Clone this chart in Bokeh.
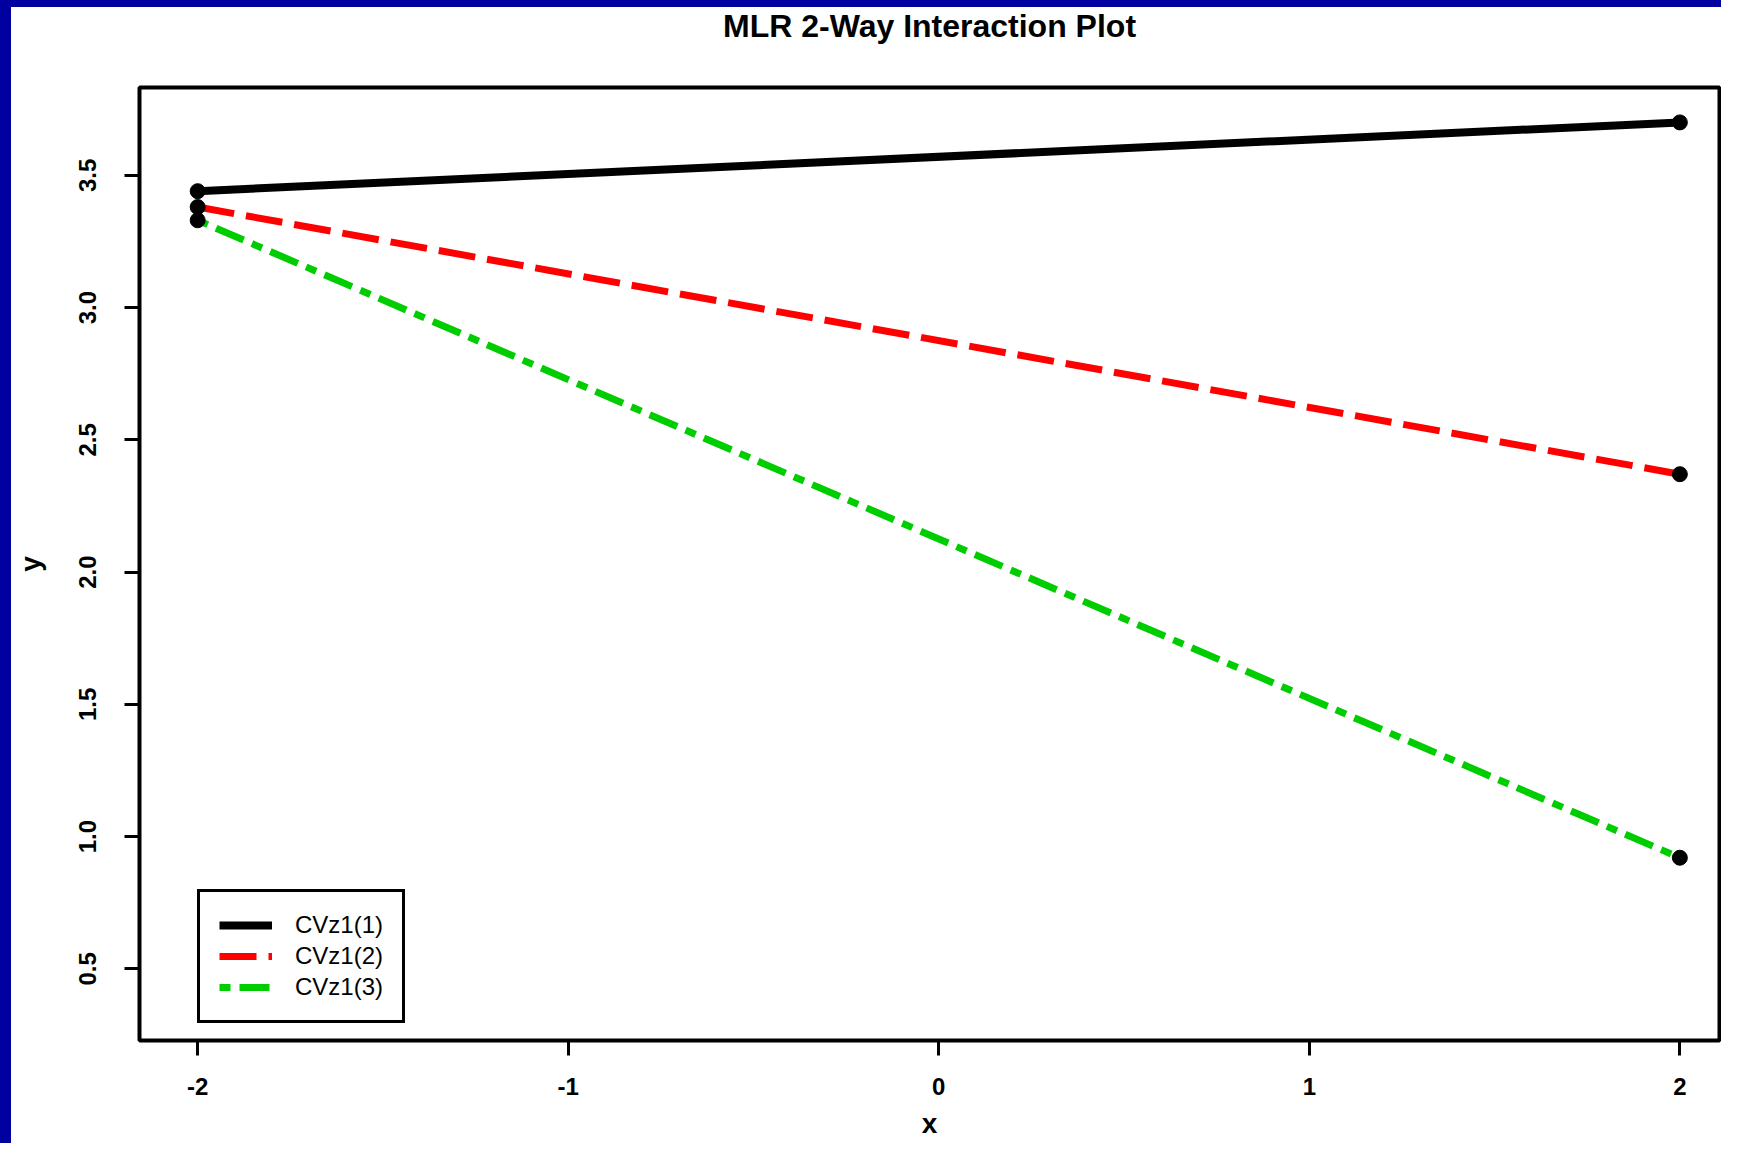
from bokeh.plotting import figure
from bokeh.models import (Range1d, Legend, LegendItem, FixedTicker, LinearAxis,
                          Div)
from bokeh.layouts import column, row
from bokeh.embed import file_html
from bokeh.resources import INLINE

# ---- data ----
x_vals = [-2, 2]
cvz1_1 = [3.44, 3.70]
cvz1_2 = [3.38, 2.37]
cvz1_3 = [3.33, 0.92]
series_names = ["CVz1(1)", "CVz1(2)", "CVz1(3)"]
x_ticks = [-2, -1, 0, 1, 2]
x_tick_labels = ["-2", "-1", "0", "1", "2"]
y_ticks = [0.5, 1.0, 1.5, 2.0, 2.5, 3.0, 3.5]
y_tick_labels = ["0.5", "1.0", "1.5", "2.0", "2.5", "3.0", "3.5"]

FONT = "Liberation Sans"
EDGE = "#0000A0"

p = figure(width=1710, height=1136, output_backend="svg", toolbar_location=None,
           x_range=Range1d(-2.157, 2.107), y_range=Range1d(0.229, 3.832),
           min_border_left=128, min_border_right=2, min_border_top=79,
           min_border_bottom=103, background_fill_color="white",
           border_fill_color="white", margin=0)
p.grid.visible = False
p.outline_line_color = "black"
p.outline_line_width = 4
p.outline_line_alpha = 1.0

xb = p.below[0]
yl = p.left[0]

# title
p.title.text = "MLR 2-Way Interaction Plot"
p.title.text_font = FONT
p.title.text_font_size = "32px"
p.title.text_font_style = "bold"
p.title.align = "center"
p.title.text_color = "black"
p.title.standoff = -3

# lines
r1 = p.line(x_vals, cvz1_1, line_color="black", line_width=8)
r2 = p.line(x_vals, cvz1_2, line_color="#FF0000", line_width=7, line_dash="37 12")
r3 = p.line(x_vals, cvz1_3, line_color="#00CD00", line_width=7, line_dash="11 9 30 9")

# end points
for ys in (cvz1_1, cvz1_2, cvz1_3):
    p.scatter(x_vals, ys, size=15, color="black")

# axes
for ax in (xb, yl):
    ax.axis_line_color = None
    ax.major_tick_in = 0
    ax.major_tick_out = 15
    ax.major_tick_line_width = 3
    ax.major_tick_line_color = "black"
    ax.minor_tick_line_color = None
    ax.major_label_text_font = FONT
    ax.major_label_text_font_size = "24px"
    ax.major_label_text_font_style = "bold"
    ax.major_label_text_color = "black"
    ax.axis_label_text_font = FONT
    ax.axis_label_text_font_size = "28px"
    ax.axis_label_text_font_style = "bold"
    ax.axis_label_text_color = "black"

xb.ticker = FixedTicker(ticks=x_ticks)
xb.major_label_overrides = dict(zip(x_ticks, x_tick_labels))
xb.axis_label = "x"
xb.major_label_standoff = 22
xb.axis_label_standoff = 10

yl.ticker = FixedTicker(ticks=y_ticks)
yl.major_label_overrides = dict(zip(y_ticks, y_tick_labels))
yl.major_label_orientation = "vertical"
yl.axis_label = "y"
yl.major_label_standoff = 28
yl.axis_label_standoff = 31

# empty spacer between the frame and the title (one hidden tick, no label)
spacer = LinearAxis(ticker=FixedTicker(ticks=[0]), major_tick_out=45,
                    major_tick_in=0, axis_line_color=None,
                    major_tick_line_color=None, minor_tick_line_color=None,
                    major_label_overrides={0: ""},
                    major_label_text_font_size="0px",
                    major_label_standoff=0, axis_label_standoff=0)
p.add_layout(spacer, "above")

# legend
legend = Legend(items=[LegendItem(label=series_names[0], renderers=[r1]),
                       LegendItem(label=series_names[1], renderers=[r2]),
                       LegendItem(label=series_names[2], renderers=[r3])],
                location=(58, 17), margin=0, padding=19, spacing=3,
                glyph_width=53, glyph_height=28, label_height=28,
                label_standoff=23, label_text_font=FONT,
                label_text_font_size="24px", label_text_color="black",
                border_line_color="black", border_line_width=3,
                border_line_alpha=1.0,
                background_fill_color="white", background_fill_alpha=1.0)
p.add_layout(legend)

# dark-blue page edges (top and left)
top_edge = Div(text="", width=1721, height=7, margin=0,
               styles={"background-color": EDGE})
left_edge = Div(text="", width=11, height=1136, margin=0,
                styles={"background-color": EDGE})
layout = column(top_edge, row(left_edge, p, spacing=0), spacing=0)

open("out.html", "w").write(file_html(layout, INLINE))
